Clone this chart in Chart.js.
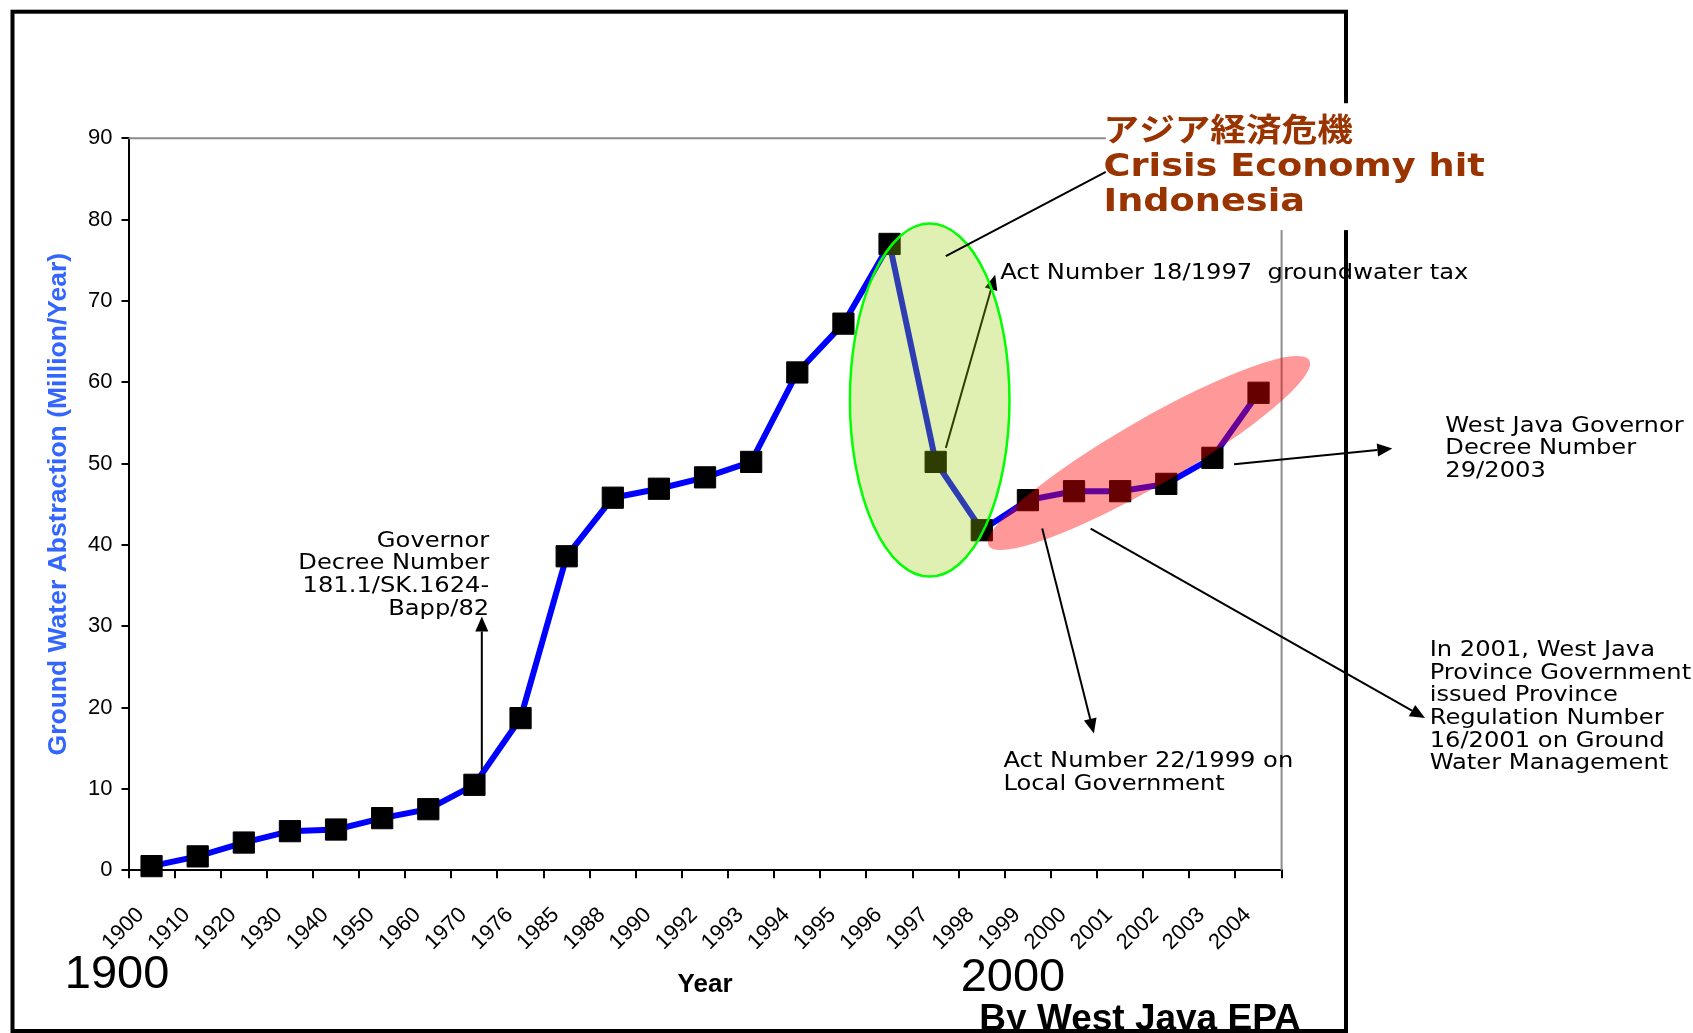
<!DOCTYPE html>
<html>
<head>
<meta charset="utf-8">
<title>Ground Water Abstraction - West Java</title>
<script src="https://cdn.jsdelivr.net/npm/chart.js@4.4.0/dist/chart.umd.min.js"></script>
<style>
  html, body { margin: 0; padding: 0; background: #fff; }
  canvas { display: block; }
</style>
</head>
<body>
<canvas id="chart" width="1693" height="1033"></canvas>
<script>
// ---- data -------------------------------------------------------------
const years = ['1900','1910','1920','1930','1940','1950','1960','1970','1976','1985','1988','1990','1992',
               '1993','1994','1995','1996','1997','1998','1999','2000','2001','2002','2003','2004'];
const abstraction = [0.5, 1.7, 3.4, 4.8, 5.0, 6.4, 7.5, 10.5, 18.7, 38.6, 45.8, 46.9, 48.3,
                     50.2, 61.2, 67.2, 77.0, 50.2, 41.8, 45.5, 46.6, 46.6, 47.5, 50.7, 58.7];
const yTickValues = [0, 10, 20, 30, 40, 50, 60, 70, 80, 90];

// ---- page layout (pixels) ---------------------------------------------
const W = 1693, H = 1033;
const plotLeft = 128.5, plotTop = 138.2, plotRight = 1281.6, plotBottom = 870.2;
const ARIAL = '"Liberation Sans", Arial, Helvetica, sans-serif';
const VERDANA = '"DejaVu Sans", Verdana, sans-serif';

// ---- annotations, placed in axis units: [category index, value] --------
const crisisEllipse = { c: [16.87, 57.8], di: 1.73, dv: 21.7 };
const reformEllipse = { from: [18.15, 39.9], to: [25.1, 62.7], halfWidth: 33 };

const arrowsUnder = [
  { from: [17.22, 51.9], to: [18.29, 73.2], head: true }            // Act 18/1997
];
const arrowsOver = [
  { from: [7.16, 12.3],  to: [7.16, 31.2],  head: true },           // Governor decree 1982
  { from: [17.22, 75.5], to: [20.69, 85.85], head: false },         // crisis pointer
  { from: [19.31, 42.0], to: [20.43, 16.8], head: true },           // Act 22/1999
  { from: [20.36, 42.0], to: [27.61, 18.7], head: true },           // Regulation 16/2001
  { from: [23.47, 49.9], to: [26.90, 51.85], head: true }           // Decree 29/2003
];

const notes = [
  { at: [7.32, 39.78],  align: 'right', lines: ['Governor', 'Decree Number', '181.1/SK.1624-', 'Bapp/82'] },
  { at: [18.40, 72.69], align: 'left',  lines: ['Act Number 18/1997  groundwater tax'] },
  { at: [28.05, 53.91], align: 'left',  lines: ['West Java Governor', 'Decree Number', '29/2003'] },
  { at: [27.71, 26.34], align: 'left',  lines: ['In 2001, West Java', 'Province Government', 'issued Province',
                                                 'Regulation Number', '16/2001 on Ground', 'Water Management'] },
  { at: [18.47, 12.63], align: 'left',  lines: ['Act Number 22/1999 on', 'Local Government'] }
];

const headlineBox = { from: [20.69, 94.3], to: [27.1, 78.7] };
const headline = [
  { at: [20.64, 89.64], text: 'アジア経済危機', font: 'bold 31.5px "Noto Sans CJK JP", sans-serif', sx: 1.13 },
  { at: [20.64, 85.36], text: 'Crisis Economy hit', font: 'bold 31.5px ' + VERDANA, sx: 1.165 },
  { at: [20.64, 81.05], text: 'Indonesia', font: 'bold 31.5px ' + VERDANA, sx: 1.165 }
];

// ---- drawing helpers ----------------------------------------------------
function toPx(chart, p) {
  return [chart.scales.x.getPixelForValue(p[0]), chart.scales.y.getPixelForValue(p[1])];
}

function drawArrow(ctx, a, b, head) {
  const ang = Math.atan2(b[1] - a[1], b[0] - a[0]);
  const hl = 15, hw = 6.5;
  const bx = b[0] - hl * Math.cos(ang), by = b[1] - hl * Math.sin(ang);
  ctx.strokeStyle = '#000';
  ctx.fillStyle = '#000';
  ctx.lineWidth = 2;
  ctx.beginPath();
  ctx.moveTo(a[0], a[1]);
  ctx.lineTo(head ? bx : b[0], head ? by : b[1]);
  ctx.stroke();
  if (head) {
    ctx.beginPath();
    ctx.moveTo(b[0], b[1]);
    ctx.lineTo(bx + hw * Math.sin(ang), by - hw * Math.cos(ang));
    ctx.lineTo(bx - hw * Math.sin(ang), by + hw * Math.cos(ang));
    ctx.closePath();
    ctx.fill();
  }
}

function drawText(ctx, text, x, y, font, color, align, sx) {
  ctx.save();
  ctx.font = font;
  ctx.fillStyle = color;
  ctx.textAlign = align;
  ctx.textBaseline = 'alphabetic';
  ctx.translate(x, y);
  ctx.scale(sx, 1);
  ctx.fillText(text, 0, 0);
  ctx.restore();
}

const decorations = {
  id: 'decorations',
  beforeDraw(chart) {
    const ctx = chart.ctx;
    ctx.save();
    ctx.fillStyle = '#fff';
    ctx.fillRect(0, 0, W, H);
    // slide frame
    ctx.strokeStyle = '#000';
    ctx.lineWidth = 4;
    ctx.strokeRect(12.5, 11.7, 1346 - 12.5, 1031 - 11.7);
    ctx.restore();
  },
  beforeDatasetsDraw(chart) {
    const ctx = chart.ctx, a = chart.chartArea;
    ctx.save();
    ctx.strokeStyle = '#8c8c8c';
    ctx.lineWidth = 2;
    ctx.beginPath();
    ctx.moveTo(a.left, a.top);
    ctx.lineTo(a.right, a.top);
    ctx.lineTo(a.right, a.bottom);
    ctx.stroke();
    ctx.restore();
  },
  afterDatasetsDraw(chart) {
    const ctx = chart.ctx;
    const xs = chart.scales.x, ys = chart.scales.y;
    ctx.save();

    arrowsUnder.forEach(r => drawArrow(ctx, toPx(chart, r.from), toPx(chart, r.to), r.head));

    // Asian crisis drop, 1996-1998
    const [gx, gy] = toPx(chart, crisisEllipse.c);
    const grx = xs.getPixelForValue(crisisEllipse.c[0] + crisisEllipse.di) - gx;
    const gry = gy - ys.getPixelForValue(crisisEllipse.c[1] + crisisEllipse.dv);
    ctx.beginPath();
    ctx.ellipse(gx, gy, grx, gry, 0, 0, Math.PI * 2);
    ctx.fillStyle = 'rgba(153,204,0,0.3)';
    ctx.fill();
    ctx.strokeStyle = '#00ff00';
    ctx.lineWidth = 2.5;
    ctx.stroke();

    // regulation period, 1999-2004
    const p1 = toPx(chart, reformEllipse.from), p2 = toPx(chart, reformEllipse.to);
    const rcx = (p1[0] + p2[0]) / 2, rcy = (p1[1] + p2[1]) / 2;
    const ra = Math.hypot(p2[0] - p1[0], p2[1] - p1[1]) / 2;
    const rang = Math.atan2(p2[1] - p1[1], p2[0] - p1[0]);
    ctx.beginPath();
    ctx.ellipse(rcx, rcy, ra, reformEllipse.halfWidth, rang, 0, Math.PI * 2);
    ctx.fillStyle = 'rgba(255,0,0,0.4)';
    ctx.fill();

    arrowsOver.forEach(r => drawArrow(ctx, toPx(chart, r.from), toPx(chart, r.to), r.head));

    notes.forEach(n => {
      const [x, y] = toPx(chart, n.at);
      n.lines.forEach((t, k) => drawText(ctx, t, x, y + k * 22.7, '20.5px ' + VERDANA, '#000', n.align, 1.18));
    });

    // headline panel
    const b1 = toPx(chart, headlineBox.from), b2 = toPx(chart, headlineBox.to);
    ctx.fillStyle = '#fff';
    ctx.fillRect(b1[0], b1[1], b2[0] - b1[0], b2[1] - b1[1]);
    headline.forEach(h => {
      const [x, y] = toPx(chart, h.at);
      drawText(ctx, h.text, x, y, h.font, '#993300', 'left', h.sx);
    });

    // period markers and source
    drawText(ctx, '1900', 64.8, 988, '47px ' + ARIAL, '#000', 'left', 1);
    drawText(ctx, '2000', 960.7, 991, '47px ' + ARIAL, '#000', 'left', 1);
    drawText(ctx, 'By West Java EPA', 979.3, 1030, 'bold 37px ' + ARIAL, '#000', 'left', 1);

    ctx.restore();
  }
};

Chart.defaults.font.family = ARIAL;

new Chart(document.getElementById('chart').getContext('2d'), {
  type: 'line',
  data: {
    labels: years,
    datasets: [{
      data: abstraction,
      borderColor: '#0000ff',
      borderWidth: 6,
      tension: 0,
      clip: false,
      pointStyle: 'rect',
      pointRadius: 15,
      pointHoverRadius: 15,
      pointBackgroundColor: '#000',
      pointBorderColor: '#000',
      pointBorderWidth: 1
    }]
  },
  options: {
    responsive: false,
    animation: false,
    devicePixelRatio: 1,
    events: [],
    layout: { padding: { left: 0, top: plotTop, right: W - plotRight, bottom: 0 } },
    plugins: { legend: { display: false }, tooltip: { enabled: false } },
    scales: {
      x: {
        offset: true,
        grid: { offset: true, drawOnChartArea: false, drawTicks: true, tickLength: 8, color: '#000', lineWidth: 2 },
        border: { color: '#000', width: 2 },
        ticks: {
          autoSkip: false, minRotation: 45, maxRotation: 45, padding: 24, labelOffset: -11,
          color: '#000', font: { family: ARIAL, size: 22 }
        },
        title: {
          display: true, text: 'Year', color: '#000',
          font: { family: ARIAL, size: 26, weight: 'bold' }, padding: { top: 0, bottom: 33 }
        },
        afterFit(s) { s.height = H - plotBottom; }
      },
      y: {
        min: 0, max: 90,
        afterBuildTicks(s) { s.ticks = yTickValues.map(v => ({ value: v })); },
        grid: { drawOnChartArea: false, drawTicks: true, tickLength: 7, color: '#000', lineWidth: 2 },
        border: { color: '#000', width: 2 },
        ticks: { padding: 9, color: '#000', font: { family: ARIAL, size: 22 } },
        title: {
          display: true, text: 'Ground Water Abstraction (Million/Year)', color: '#3366ff',
          font: { family: ARIAL, size: 26.5, weight: 'bold' }, padding: { top: 43, bottom: 0 }
        },
        afterFit(s) { s.width = plotLeft; }
      }
    }
  },
  plugins: [decorations]
});
</script>
</body>
</html>
